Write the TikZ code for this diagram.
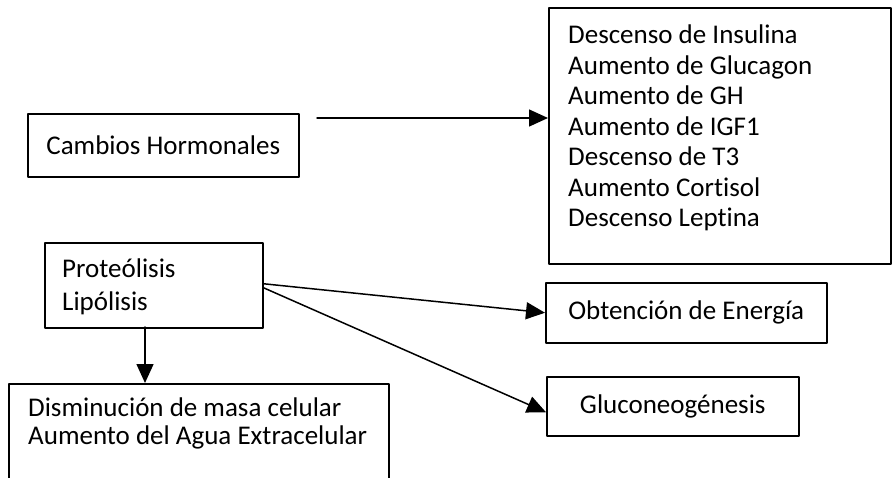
\documentclass[tikz,border=0pt]{standalone}
\usepackage{fontspec}
\setmainfont{Carlito}[Ligatures={NoCommon,NoContextual}]
\usetikzlibrary{arrows.meta}

\begin{document}
\begin{tikzpicture}[x=1pt, y=-1pt, line cap=round, line join=round, >={Triangle[length=19pt,width=17pt]},
    every node/.style={font=\fontsize{27}{30.5}\selectfont},
    caja/.style={draw, line width=1.5pt, inner sep=0pt, anchor=north west},
    texto/.style={inner sep=0pt, anchor=north west, align=left},
    flecha/.style={->, line width=1.5pt}]
    \clip(0,0) rectangle (892,477);
    \draw(27,113) node[caja, minimum width=271, minimum height=63] (cambios) {Cambios Hormonales};
    \draw(548,7) node[caja, minimum width=342, minimum height=256] (hormonas) {};
    \draw(568,25) node[texto] (lista) {Descenso de Insulina\\Aumento de Glucagon\\Aumento de GH\\Aumento de IGF1\\Descenso de T3\\Aumento Cortisol\\Descenso Leptina};
    \draw(44,242) node[caja, minimum width=218, minimum height=85] (proteo) {};
    \draw(62,259) node[texto, font=\fontsize{27}{33}\selectfont] (proteotxt) {Proteólisis\\Lipólisis};
    \draw(8,383) node[caja, minimum width=380, minimum height=120] (dismin) {};
    \draw(28,398) node[texto, font=\fontsize{27}{28}\selectfont] (dismintxt) {Disminución de masa celular\\Aumento del Agua Extracelular};
    \draw(545,282) node[caja, minimum width=281, minimum height=60] (obtencion) {Obtención de Energía};
    \draw(546,376) node[caja, minimum width=252, minimum height=59] (gluco) {Gluconeogénesis};
    % flechas
    \coordinate (c0) at (317,118);
    \draw[flecha] (c0) -- (c0 -| hormonas.west);
    \draw[flecha] ([yshift=1.5pt]proteo.east) -- (obtencion.west);
    \draw[flecha] ([yshift=-2.5pt]proteo.east) -- ([yshift=-6pt]gluco.west);
    \coordinate (p0) at (145,327);
    \draw[flecha] (p0) -- (p0 |- dismin.north);
\end{tikzpicture}
\end{document}
